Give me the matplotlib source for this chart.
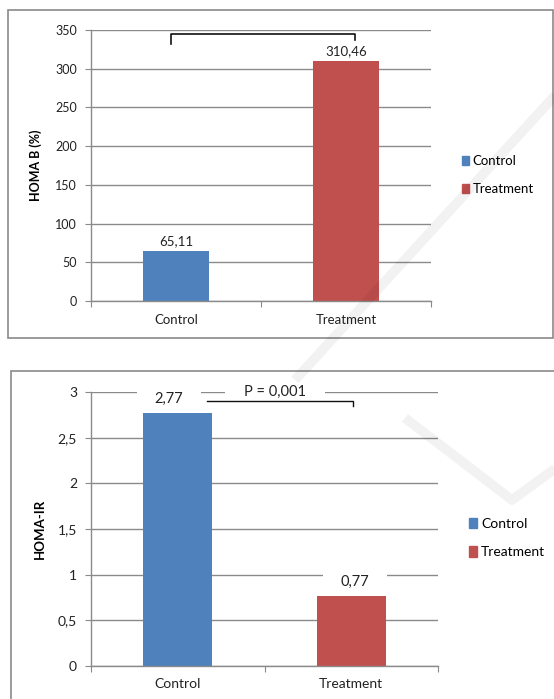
import matplotlib
matplotlib.use("Agg")
import matplotlib.pyplot as plt
from matplotlib.patches import Rectangle, Patch
from matplotlib.lines import Line2D
from matplotlib.ticker import FuncFormatter

plt.rcParams['font.family'] = ['Lato', 'DejaVu Sans']

categories = ["Control", "Treatment"]
homa_b = [65.11, 310.46]
homa_b_labels = ["65,11", "310,46"]
homa_ir = [2.77, 0.77]
homa_ir_labels = ["2,77", "0,77"]
p_text = "P = 0,001"
colors = ["#4F81BD", "#C0504D"]

W, H = 554, 699
fig = plt.figure(figsize=(W / 100, H / 100), dpi=100)

def fx(px):
    return px / W

def fy(py):
    return 1 - py / H

# outer boxes
fig.patches.append(Rectangle((fx(8), fy(338)), fx(553) - fx(8), fy(10) - fy(338),
                             transform=fig.transFigure, fill=False, ec="#8a8a8a", lw=1.2))
fig.patches.append(Rectangle((fx(11), fy(705)), fx(556) - fx(11), fy(371) - fy(705),
                             transform=fig.transFigure, fill=False, ec="#8a8a8a", lw=1.2))

def comma_fmt(v, pos):
    return ("%g" % v).replace(".", ",")

def setup(ax, ymax, ystep, fs_tick, fs_cat):
    ax.set_xlim(0, 2)
    ax.set_ylim(0, ymax)
    ax.set_yticks([i * ystep for i in range(int(round(ymax / ystep)) + 1)])
    ax.yaxis.set_major_formatter(FuncFormatter(comma_fmt))
    ax.set_xticks([0, 1, 2])
    ax.set_xticklabels([])
    ax.set_xticks([0.5, 1.5], minor=True)
    ax.set_xticklabels(categories, minor=True, fontsize=fs_cat, color="#222222")
    ax.tick_params(axis="x", which="minor", length=0, pad=9)
    ax.tick_params(axis="x", which="major", length=4, color="#8a8a8a", direction="out")
    ax.tick_params(axis="y", length=4, color="#8a8a8a", labelsize=fs_tick, labelcolor="#222222", pad=6)
    for s in ["top", "right"]:
        ax.spines[s].set_visible(False)
    for s in ["left", "bottom"]:
        ax.spines[s].set_color("#8a8a8a")
        ax.spines[s].set_linewidth(1.0)
    ax.yaxis.grid(True, color="#8a8a8a", lw=1.0, zorder=0.5)
    ax.set_axisbelow(True)

# ---------- top chart ----------
ax1 = fig.add_axes([fx(91), fy(301), fx(431) - fx(91), fy(30) - fy(301)])
setup(ax1, 350, 50, 9, 9.5)
xs = [0.5, 1.5]
bw = 0.39
ax1.bar(xs, homa_b, width=bw, color=colors, zorder=2)
for x, v, lab in zip(xs, homa_b, homa_b_labels):
    ax1.annotate(lab, (x, v), xytext=(0, 2.5), textcoords="offset points",
                 ha="center", va="bottom", fontsize=9.5, color="#222222", zorder=3)
ax1.plot([0.47, 0.47, 1.553, 1.553], [332, 345, 345, 337], color="#111111", lw=1.2,
         clip_on=False, zorder=3)
ax1.set_ylabel("HOMA B (%)", fontsize=9, fontweight="bold")
ax1.yaxis.set_label_coords(-0.145, 0.5)
ax1.legend(handles=[Patch(color=c) for c in colors], labels=categories,
           loc="center left", bbox_to_anchor=(fx(457), fy(175)), bbox_transform=fig.transFigure,
           frameon=False, fontsize=9.5, handlelength=0.5, handleheight=0.65,
           handletextpad=0.3, labelspacing=1.2, borderaxespad=0)

# ---------- bottom chart ----------
ax2 = fig.add_axes([fx(91), fy(666), fx(438) - fx(91), fy(392) - fy(666)])
setup(ax2, 3, 0.5, 10, 10)
bw2 = 0.40
ax2.bar(xs, homa_ir, width=bw2, color=colors, zorder=2)
label_dx = [-0.05, 0.02]
for x, v, lab, dx in zip(xs, homa_ir, homa_ir_labels, label_dx):
    ax2.annotate(lab, (x + dx, v), xytext=(0, 5), textcoords="offset points",
                 ha="center", va="bottom", fontsize=10.5, color="#222222", zorder=1,
                 bbox=dict(boxstyle="square,pad=1.2", fc="white", ec="none"))
ax2.text(1.06, 3.0, p_text, ha="center", va="center", fontsize=10.5, color="#222222",
         zorder=1, bbox=dict(boxstyle="square,pad=1.3", fc="white", ec="none"))
ax2.plot([0.67, 1.51, 1.51], [2.90, 2.90, 2.85], color="#111111", lw=1.0,
         clip_on=False, zorder=3)
ax2.set_ylabel("HOMA-IR", fontsize=9.5, fontweight="bold")
ax2.yaxis.set_label_coords(-0.13, 0.5)
ax2.legend(handles=[Patch(color=c) for c in colors], labels=categories,
           loc="center left", bbox_to_anchor=(fx(463), fy(538)), bbox_transform=fig.transFigure,
           frameon=False, fontsize=10, handlelength=0.6, handleheight=0.75,
           handletextpad=0.3, labelspacing=1.2, borderaxespad=0)

# ---------- faint publisher-logo strokes in the background ----------
for xsq, ysq in [([560, 295], [90, 380]), ([405, 512, 560], [418, 500, 465])]:
    fig.add_artist(Line2D([fx(v) for v in xsq], [fy(v) for v in ysq], lw=7,
                          color="black", alpha=0.05, transform=fig.transFigure,
                          solid_capstyle="butt", zorder=20))

fig.savefig("out.png", dpi=100)
